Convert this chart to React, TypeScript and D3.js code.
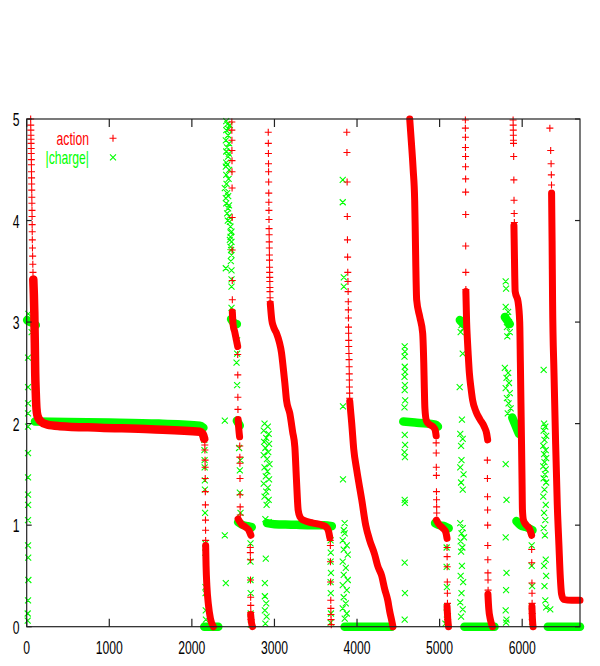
import React from 'react';
import * as d3 from 'd3';

type P = [number, number];

const W = 600;
const H = 666;
const xDomain: P = [0, 6700];
const yDomain: P = [0, 5];
const xTicks = [0, 1000, 2000, 3000, 4000, 5000, 6000];
const yTicks = [0, 1, 2, 3, 4, 5];
const seriesNames = ['action', '|charge|'];
const seriesColors = ['#ff0000', '#00ff00'];

// ---- action (red "+") : dense runs of points (drawn as a solid band) ----
const actionRuns: P[][] = [
  [[80, 3.42], [92, 3.1], [98, 2.8], [103, 2.5], [110, 2.3], [118, 2.15], [130, 2.08], [160, 2.03], [250, 1.99], [400, 1.975], [887, 1.96], [1500, 1.945], [2097, 1.92], [2130, 1.9], [2150, 1.85]],
  [[2167, 0.8], [2172, 0.6], [2182, 0.4], [2200, 0.22], [2225, 0.08], [2260, 0.0]],
  [[2490, 3.1], [2500, 2.97], [2520, 2.9], [2540, 2.82], [2555, 2.76]],
  [[2560, 2.04], [2568, 1.95], [2578, 1.87]],
  [[2560, 1.06], [2600, 1.01], [2650, 0.98], [2690, 0.95], [2715, 0.9]],
  [[2712, 0.12], [2722, 0.04], [2735, 0]],
  [[2950, 3.18], [2968, 3.02], [2990, 2.95], [3025, 2.89], [3060, 2.8], [3085, 2.7], [3105, 2.56], [3126, 2.4], [3146, 2.23], [3186, 2.1], [3220, 1.92], [3247, 1.77], [3267, 1.44], [3287, 1.15], [3310, 1.08], [3347, 1.05], [3468, 1.02], [3580, 1.0], [3630, 0.98], [3655, 0.94], [3670, 0.88]],
  [[3912, 2.22], [3925, 2.1], [3936, 2.0], [3960, 1.75], [3997, 1.54], [4057, 1.25], [4105, 1.0], [4154, 0.85], [4214, 0.71], [4250, 0.6], [4299, 0.5], [4335, 0.37], [4372, 0.26], [4396, 0.15], [4420, 0.06], [4435, 0]],
  [[4638, 5.0], [4660, 4.75], [4680, 4.5], [4698, 4.2], [4705, 3.9], [4712, 3.55], [4722, 3.22], [4760, 3.05], [4795, 2.89], [4808, 2.6], [4815, 2.35], [4822, 2.15], [4840, 2.03], [4880, 1.99], [4920, 1.97], [4945, 1.94], [4958, 1.88]],
  [[4962, 1.05], [4990, 1.01], [5040, 0.97], [5075, 0.93], [5090, 0.87]],
  [[5090, 0.2], [5100, 0.06], [5108, 0]],
  [[5318, 3.3], [5327, 3.0], [5335, 2.85], [5345, 2.7], [5360, 2.5], [5380, 2.35], [5400, 2.23], [5440, 2.12], [5490, 2.04], [5540, 1.97], [5570, 1.9], [5582, 1.84]],
  [[5585, 0.32], [5595, 0.18], [5615, 0.07], [5640, 0]],
  [[5900, 3.95], [5905, 3.7], [5910, 3.45], [5915, 3.3], [5950, 3.2], [5970, 3.0], [5978, 2.6], [5985, 2.2], [5992, 1.8], [5998, 1.45], [6003, 1.15], [6015, 1.05], [6050, 1.0], [6090, 0.96], [6114, 0.9]],
  [[6118, 0.2], [6125, 0.06], [6132, 0]],
  [[6356, 4.27], [6362, 3.8], [6368, 3.2], [6385, 2.5], [6405, 1.8], [6425, 1.2], [6445, 0.8], [6462, 0.48], [6477, 0.32], [6500, 0.27], [6600, 0.26], [6700, 0.26]],
];

// ---- action (red "+") : isolated points ----
const actionPoints: P[] = [
  [48, 5.0], [49, 4.94], [50, 4.89], [51, 4.84], [52, 4.8], [53, 4.76], [54, 4.71], [55, 4.66], [56, 4.6], [57, 4.55], [58, 4.48], [59, 4.42], [60, 4.36], [61, 4.3], [62, 4.23], [63, 4.17], [64, 4.1], [65, 4.04], [66, 3.96], [67, 3.89], [68, 3.81], [70, 3.73], [72, 3.65], [74, 3.57], [76, 3.49],
  [2155, 1.84], [2157, 1.79], [2158, 1.74], [2160, 1.64], [2161, 1.57], [2162, 1.46], [2163, 1.33], [2164, 1.2], [2165, 1.05], [2166, 0.95], [2167, 0.85],
  [2484, 4.97], [2484, 4.89], [2485, 4.79], [2485, 4.69], [2486, 4.59], [2486, 4.48], [2487, 4.32], [2488, 4.03], [2488, 3.71], [2489, 3.41], [2490, 3.22],
  [2555, 2.68], [2556, 2.48], [2557, 2.26], [2558, 2.14],
  [2580, 1.78], [2581, 1.67], [2582, 1.61], [2583, 1.46], [2584, 1.3], [2585, 1.18], [2586, 1.1],
  [2707, 0.78], [2708, 0.73], [2709, 0.66], [2710, 0.46], [2712, 0.29], [2713, 0.21], [2714, 0.14], [2716, 0.07],
  [2925, 4.87], [2926, 4.76], [2927, 4.66], [2928, 4.56], [2929, 4.48], [2930, 4.38], [2931, 4.27], [2932, 4.18], [2933, 4.1], [2934, 4.01], [2935, 3.92], [2936, 3.86], [2937, 3.79], [2938, 3.73], [2939, 3.66], [2940, 3.61], [2941, 3.54], [2942, 3.49], [2943, 3.44], [2944, 3.4], [2945, 3.34], [2946, 3.3], [2947, 3.24], [2948, 3.2],
  [3676, 0.85], [3677, 0.8], [3678, 0.64], [3680, 0.44], [3682, 0.26], [3683, 0.18], [3684, 0.12], [3686, 0.07], [3688, 0.02],
  [3876, 4.87], [3878, 4.67], [3880, 4.38], [3882, 4.04], [3884, 3.81], [3886, 3.64], [3888, 3.49], [3890, 3.4], [3892, 3.3], [3894, 3.2], [3895, 3.12], [3896, 3.04], [3897, 2.95], [3898, 2.89], [3899, 2.82], [3900, 2.76], [3902, 2.69], [3904, 2.63], [3905, 2.56], [3906, 2.49], [3907, 2.43], [3908, 2.36], [3910, 2.3], [3911, 2.25],
  [4958, 1.81], [4959, 1.71], [4960, 1.57], [4961, 1.49], [4962, 1.33], [4963, 1.25], [4964, 1.18], [4965, 1.12],
  [5090, 0.78], [5091, 0.69], [5092, 0.59], [5093, 0.44], [5094, 0.33], [5095, 0.23], [5096, 0.13], [5097, 0.07],
  [5312, 4.99], [5312, 4.91], [5313, 4.82], [5313, 4.72], [5314, 4.63], [5314, 4.53], [5315, 4.41], [5315, 4.28], [5316, 4.06], [5316, 3.75], [5317, 3.49], [5318, 3.32],
  [5578, 1.64], [5579, 1.46], [5580, 1.28], [5581, 1.15], [5582, 1.0], [5583, 0.8], [5584, 0.66], [5585, 0.53], [5586, 0.46], [5587, 0.36],
  [5890, 4.99], [5891, 4.94], [5892, 4.89], [5893, 4.84], [5894, 4.79], [5895, 4.76], [5897, 4.63], [5899, 4.4], [5901, 4.2], [5903, 4.07], [5905, 3.98],
  [6115, 0.76], [6116, 0.63], [6118, 0.43], [6119, 0.33], [6120, 0.23], [6121, 0.13], [6122, 0.07],
  [6335, 4.91], [6345, 4.69], [6350, 4.56], [6353, 4.45], [6355, 4.35],
];

// ---- |charge| (green "x") : dense runs ----
const chargeRuns: P[][] = [
  [[5, 3.02], [40, 3.0], [80, 2.99], [110, 2.97]],
  [[100, 2.02], [500, 2.015], [1000, 2.01], [1600, 2.0], [2097, 1.98], [2140, 1.96]],
  [[2150, 0], [2320, 0]],
  [[2475, 3.03], [2500, 3.0], [2545, 2.98]],
  [[2545, 2.03], [2580, 1.98]],
  [[2560, 1.03], [2620, 1.0], [2680, 0.99], [2725, 0.98]],
  [[2910, 1.02], [3000, 1.01], [3200, 1.005], [3400, 1.0], [3600, 1.0], [3695, 0.99]],
  [[3850, 0], [4420, 0]],
  [[4560, 2.02], [4700, 2.01], [4850, 2.0], [4950, 1.99], [4980, 1.97]],
  [[4945, 1.02], [5000, 1.0], [5060, 0.99], [5110, 0.97]],
  [[5245, 3.02], [5290, 2.98]],
  [[5300, 0], [5665, 0]],
  [[5790, 3.05], [5850, 2.98]],
  [[5880, 2.06], [5920, 1.98], [5960, 1.9]],
  [[5930, 1.04], [5980, 1.0], [6050, 0.98], [6125, 0.95]],
  [[6310, 0], [6700, 0]],
];

// ---- |charge| (green "x") : isolated points ----
const chargePoints: P[] = [
  [16, 2.65], [16, 2.36], [17, 2.2], [16, 2.1], [16, 1.97], [16, 1.71], [16, 1.47], [16, 1.3], [17, 1.2], [16, 1.05], [16, 0.8], [18, 0.68], [20, 0.46], [16, 0.26], [12, 0.13], [12, 0.06], [100, 2.82], [100, 2.76], [100, 2.51], [113, 2.26], [113, 2.16], [20, 3.08], [60, 2.9],
  [2150, 1.84], [2152, 1.74], [2154, 1.64], [2155, 1.57], [2157, 1.44], [2158, 1.35], [2160, 1.12], [2162, 0.82], [2163, 0.73], [2165, 0.39], [2166, 0.33], [2168, 0.16], [2170, 0.07],
  [2416, 4.98], [2460, 4.94], [2416, 4.89], [2439, 4.84], [2411, 4.79], [2452, 4.76], [2416, 4.68], [2439, 4.63], [2416, 4.57], [2411, 4.53], [2452, 4.5], [2416, 4.45], [2399, 4.32], [2427, 4.27], [2411, 4.22], [2416, 4.17], [2439, 4.12], [2427, 4.07], [2452, 4.04], [2460, 3.99], [2468, 3.94], [2480, 3.89], [2468, 3.84], [2480, 3.79], [2468, 3.74], [2480, 3.66], [2411, 3.53], [2480, 3.51], [2480, 3.42], [2480, 3.35], [2480, 3.14], [2492, 3.09],
  [2430, 4.95], [2445, 4.9], [2425, 4.72], [2448, 4.66], [2430, 4.55], [2445, 4.41], [2420, 4.36], [2440, 4.24], [2450, 4.15], [2435, 4.0], [2470, 3.88], [2460, 3.81], [2475, 3.71], [2472, 3.6],
  [2548, 2.82], [2548, 2.69], [2541, 2.6], [2548, 2.38], [2572, 1.76], [2589, 1.64], [2581, 1.54], [2581, 1.32], [2589, 1.12], [2399, 2.03], [2399, 0.9], [2411, 0.43],
  [2710, 0.82], [2710, 0.64], [2710, 0.46], [2712, 0.33], [2712, 0.13], [2714, 0.02],
  [2880, 2.0], [2920, 1.97], [2870, 1.93], [2930, 1.9], [2900, 1.86], [2875, 1.82], [2935, 1.8], [2890, 1.76], [2925, 1.72], [2870, 1.69], [2910, 1.65], [2940, 1.6], [2880, 1.57], [2915, 1.53], [2895, 1.48], [2935, 1.45], [2870, 1.41], [2920, 1.37], [2900, 1.33], [2880, 1.28], [2930, 1.25], [2905, 1.2], [2890, 1.06], [2930, 1.03],
  [2895, 0.67], [2884, 0.43], [2884, 0.3], [2900, 0.23], [2884, 0.16], [2905, 0.1], [2890, 0.03],
  [3680, 0.85], [3682, 0.73], [3680, 0.64], [3684, 0.53], [3680, 0.44], [3682, 0.33], [3684, 0.13], [3680, 0.04],
  [3827, 4.4], [3827, 4.18], [3840, 3.44], [3840, 3.35], [3830, 2.17], [3830, 1.45], [3850, 1.02], [3840, 0.95],
  [3850, 0.92], [3827, 0.85], [3876, 0.8], [3839, 0.76], [3888, 0.71], [3827, 0.64], [3864, 0.58], [3839, 0.51], [3888, 0.46], [3827, 0.41], [3876, 0.36], [3839, 0.29], [3864, 0.23], [3827, 0.18], [3876, 0.13], [3851, 0.08],
  [4577, 2.76], [4580, 2.71], [4575, 2.66], [4578, 2.56], [4582, 2.51], [4575, 2.46], [4580, 2.38], [4577, 2.33], [4583, 2.23], [4575, 2.16], [4578, 1.89], [4582, 1.79], [4575, 1.72], [4580, 1.67], [4577, 1.25], [4580, 1.22], [4577, 0.63], [4580, 0.33], [4577, 0.07],
  [5085, 0.78], [5085, 0.59], [5088, 0.39], [5085, 0.19], [5088, 0.07], [5070, 0.03],
  [5250, 3.02], [5280, 3.0], [5265, 2.97], [5290, 2.94], [5255, 2.9], [5280, 2.69], [5243, 2.36], [5270, 2.04], [5250, 1.9], [5280, 1.85], [5260, 1.78], [5265, 1.64], [5250, 1.57], [5290, 1.5], [5260, 1.42], [5280, 1.35],
  [5250, 1.02], [5280, 0.97], [5265, 0.92], [5295, 0.88], [5255, 0.84], [5275, 0.78], [5260, 0.74], [5270, 0.6], [5255, 0.5], [5285, 0.44], [5265, 0.33], [5250, 0.24], [5280, 0.17], [5260, 0.1],
  [5800, 3.4], [5805, 3.33], [5800, 3.15], [5830, 3.1], [5810, 3.05], [5840, 3.0], [5815, 2.95], [5850, 2.9], [5820, 2.86], [5790, 2.55], [5830, 2.5], [5810, 2.45], [5840, 2.4], [5800, 2.35], [5850, 2.3], [5815, 2.25], [5835, 2.2], [5860, 2.15], [5825, 2.1],
  [5800, 1.6], [5810, 1.25], [5800, 0.88], [5810, 0.53], [5805, 0.36], [5800, 0.16], [5810, 0.07], [5805, 0.04],
  [6115, 0.8], [6115, 0.6], [6120, 0.4], [6115, 0.2], [6120, 0.05],
  [6260, 2.53], [6265, 2.0], [6280, 1.97], [6260, 1.93], [6290, 1.88], [6270, 1.84], [6255, 1.78], [6285, 1.74], [6265, 1.7], [6290, 1.66], [6270, 1.62], [6255, 1.58], [6285, 1.55], [6275, 1.5], [6260, 1.46], [6290, 1.42],
  [6270, 1.35], [6255, 1.28], [6285, 1.2], [6265, 1.12], [6280, 1.05], [6260, 0.97], [6275, 0.9], [6285, 0.66], [6265, 0.6], [6290, 0.5], [6270, 0.4], [6280, 0.26], [6290, 0.19], [6340, 0.17],
];

const x = d3.scaleLinear().domain(xDomain).range([26.7, 580]);
const y = d3.scaleLinear().domain(yDomain).range([626.7, 119]);

const plusPath = (pts: P[], r: number) =>
  pts.map(([a, b]) => {
    const cx = x(a), cy = y(b);
    return `M${cx - r},${cy}h${2 * r}M${cx},${cy - r}v${2 * r}`;
  }).join('');

const crossPath = (pts: P[], r: number) =>
  pts.map(([a, b]) => {
    const cx = x(a), cy = y(b);
    return `M${cx - r},${cy - r}l${2 * r},${2 * r}M${cx - r},${cy + r}l${2 * r},${-2 * r}`;
  }).join('');

const line = d3.line<P>().x(d => x(d[0])).y(d => y(d[1])).curve(d3.curveMonotoneX);

const FONT = "'Liberation Sans', Arial, Helvetica, sans-serif";
const SX = 0.64;
const FS = 19;

export default function App() {
  const [left, right] = x.range();
  const [bottom, top] = y.range();
  return (
    <svg width={W} height={H} style={{ position: 'absolute', left: 0, top: 0, background: '#fff' }}>
      {/* charge (green) first */}
      <g>
        {chargeRuns.map((r, i) => (
          <path key={i} d={line(r) || ''} fill="none" stroke={seriesColors[1]} strokeWidth={8.5} strokeLinecap="round" strokeLinejoin="round" />
        ))}
        <path d={crossPath(chargePoints, 3)} fill="none" stroke={seriesColors[1]} strokeWidth={1.1} />
      </g>
      {/* action (red) on top */}
      <g>
        {actionRuns.map((r, i) => (
          <path key={i} d={line(r) || ''} fill="none" stroke={seriesColors[0]} strokeWidth={i === 0 ? 8.5 : 7} strokeLinecap="round" strokeLinejoin="round" />
        ))}
        <path d={plusPath(actionPoints, 3.5)} fill="none" stroke={seriesColors[0]} strokeWidth={1.1} />
      </g>

      {/* frame */}
      <rect x={left} y={top} width={right - left} height={bottom - top} fill="none" stroke="#222" strokeWidth={1.2} />
      {/* x ticks */}
      {xTicks.map(t => (
        <g key={'x' + t}>
          <line x1={x(t)} x2={x(t)} y1={bottom} y2={bottom - 8} stroke="#222" strokeWidth={1.2} />
          <line x1={x(t)} x2={x(t)} y1={top} y2={top + 8} stroke="#222" strokeWidth={1.2} />
          <text transform={`translate(${x(t)},${bottom + 27}) scale(${SX},1)`} textAnchor="middle" fontFamily={FONT} fontSize={FS} fill="#000">{t}</text>
        </g>
      ))}
      {/* y ticks */}
      {yTicks.map(t => (
        <g key={'y' + t}>
          <line x1={left} x2={left + 5} y1={y(t)} y2={y(t)} stroke="#222" strokeWidth={1.2} />
          <line x1={right} x2={right - 5} y1={y(t)} y2={y(t)} stroke="#222" strokeWidth={1.2} />
          <text transform={`translate(19.5,${y(t) + 7}) scale(${SX},1)`} textAnchor="end" fontFamily={FONT} fontSize={FS} fill="#000">{t}</text>
        </g>
      ))}
      {/* legend */}
      <text transform={`translate(89,145) scale(${SX},1)`} textAnchor="end" fontFamily={FONT} fontSize={FS} fill={seriesColors[0]}>{seriesNames[0]}</text>
      <path d={`M${113 - 3.5},138.3h7M113,${138.3 - 3.5}v7`} stroke={seriesColors[0]} strokeWidth={1.1} fill="none" />
      <text transform={`translate(89,163.5) scale(${SX},1)`} textAnchor="end" fontFamily={FONT} fontSize={FS} fill={seriesColors[1]}>{seriesNames[1]}</text>
      <path d={`M110,154.3l6,6M110,160.3l6,-6`} stroke={seriesColors[1]} strokeWidth={1.1} fill="none" />
    </svg>
  );
}
